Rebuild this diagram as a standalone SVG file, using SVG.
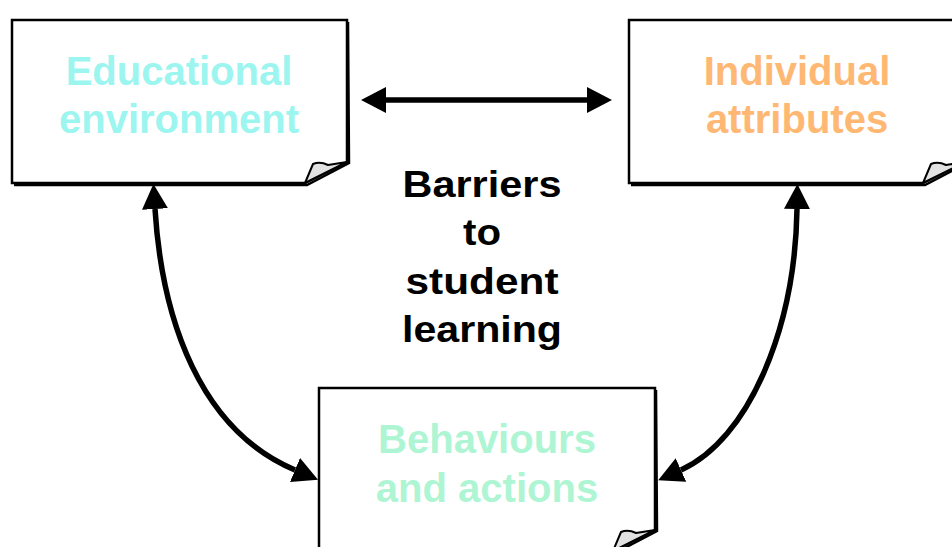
<svg xmlns="http://www.w3.org/2000/svg" width="952" height="547" viewBox="0 0 952 547">
<style>
.box{fill:#fff;stroke:#000;stroke-width:2.5;stroke-linejoin:miter}
.shadow{fill:none;stroke:#000;stroke-width:2.5}
.fold{fill:#e2e2e2;stroke:#000;stroke-width:2;stroke-linejoin:round}
.lbl{font-family:"Liberation Sans",Arial,sans-serif;font-weight:bold;font-size:40px;text-anchor:middle}
.mid{font-size:37px;fill:#000}
.conn{fill:none;stroke:#000;stroke-width:5.5}
</style>
<defs>
<marker id="ah" markerUnits="userSpaceOnUse" viewBox="0 0 25 26" markerWidth="25" markerHeight="26" refX="0" refY="13" orient="auto-start-reverse">
<path d="M0,0 L25,13 L0,26 Z" fill="#000"/>
</marker>
</defs>
<rect width="952" height="547" fill="#fff"/>
<g id="connectors">
<path class="conn" d="M386,100 L587,100" marker-start="url(#ah)" marker-end="url(#ah)"/>
<path class="conn" d="M155,209 C162,320 200,430 295,470" marker-start="url(#ah)" marker-end="url(#ah)"/>
<path class="conn" d="M797,209 C795,330 748,440 681,470" marker-start="url(#ah)" marker-end="url(#ah)"/>
</g>
<g id="educational-environment">
<path class="shadow" d="M348,22 L349,163 L307,185 L14,185"/>
<path class="box" d="M12,20 L347,20 L347,162 L305,183 L12,183 Z"/>
<path class="fold" d="M305,183 L313,164 Q320,161 328,165 L347,162 Z"/>
<text class="lbl" x="179" y="85" fill="#9cf5ef">Educational</text>
<text class="lbl" x="179" y="133" fill="#9cf5ef">environment</text>
</g>
<g id="individual-attributes">
<path class="shadow" d="M966,22 L967,163 L925,185 L631,185"/>
<path class="box" d="M629,20 L965,20 L965,162 L923,183 L629,183 Z"/>
<path class="fold" d="M923,183 L931,164 Q938,161 946,165 L965,162 Z"/>
<text class="lbl" x="797" y="85" fill="#ffb873">Individual</text>
<text class="lbl" x="797" y="133" fill="#ffb873">attributes</text>
</g>
<g id="behaviours-and-actions">
<path class="shadow" d="M656,390 L657,531 L615,553 L321,553"/>
<path class="box" d="M319,388 L655,388 L655,530 L613,551 L319,551 Z"/>
<path class="fold" d="M613,551 L621,532 Q628,529 636,533 L655,530 Z"/>
<text class="lbl" x="487" y="453" fill="#aef5d4">Behaviours</text>
<text class="lbl" x="487" y="502" fill="#aef5d4">and actions</text>
</g>
<g id="center-label">
<text class="lbl mid" x="482" y="197" textLength="159" lengthAdjust="spacingAndGlyphs">Barriers</text>
<text class="lbl mid" x="482" y="245" textLength="38" lengthAdjust="spacingAndGlyphs">to</text>
<text class="lbl mid" x="482" y="294" textLength="153" lengthAdjust="spacingAndGlyphs">student</text>
<text class="lbl mid" x="482" y="342" textLength="160" lengthAdjust="spacingAndGlyphs">learning</text>
</g>
</svg>
